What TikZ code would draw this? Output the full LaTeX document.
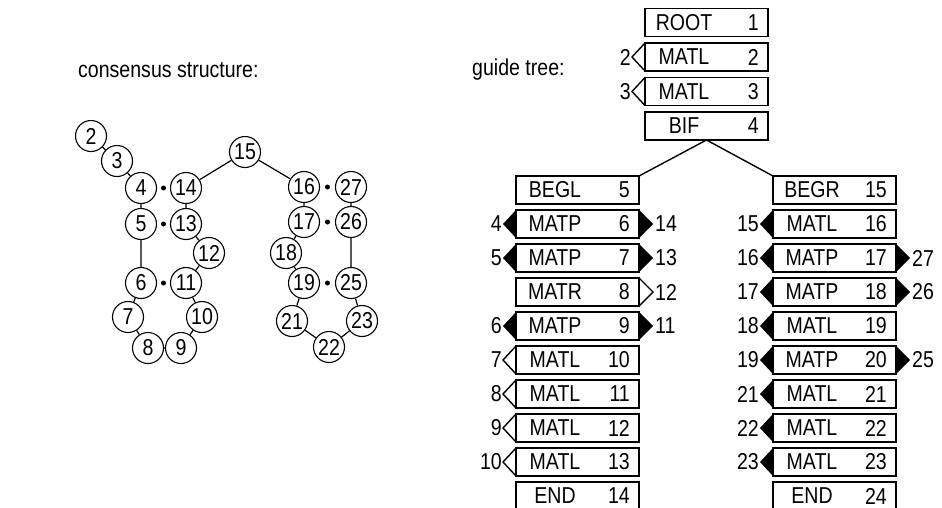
\documentclass[tikz,border=0pt]{standalone}
\usepackage{fontspec}
\setmainfont[FakeStretch=0.85]{Liberation Sans}
\usetikzlibrary{calc}
\tikzset{
  stbox/.style={draw, line width=1.4pt, minimum width=123pt, minimum height=28pt, inner sep=0pt, outer sep=0pt},
  stname/.style={inner sep=0pt, anchor=center},
  stnum/.style={inner sep=0pt, anchor=east},
  sideno/.style={inner sep=0pt},
  res/.style={draw, circle, line width=1.1pt, minimum size=31pt, inner sep=0pt},
  bpdot/.style={circle, fill, inner sep=0pt, minimum size=5pt},
  tri/.style={line width=1.4pt, line join=miter},
  link/.style={line width=1.2pt},
  branch/.style={line width=1.4pt},
}
\newcommand\strow[5]{%
  \node[stbox] (#1) at (#2,#3) {};
  \node[stname] (#1n) at ($(#1.west)+(39,0)$) {#4};
  \node[stnum] (#1k) at ($(#1.east)+(-9,0)$) {#5};
}
\newcommand\TLf[2]{%
  \fill (#1.north west) -- ($(#1.west)+(-13,0)$) -- (#1.south west) -- cycle;
  \node[sideno,anchor=east] (#1a) at ($(#1.west)+(-14,0)$) {#2};
}
\newcommand\TLo[2]{%
  \draw[tri] (#1.north west) -- ($(#1.west)+(-13,0)$) -- (#1.south west);
  \node[sideno,anchor=east] (#1a) at ($(#1.west)+(-14,0)$) {#2};
}
\newcommand\TRf[2]{%
  \fill (#1.north east) -- ($(#1.east)+(14,0)$) -- (#1.south east) -- cycle;
  \node[sideno,anchor=west] (#1b) at ($(#1.east)+(16,0)$) {#2};
}
\newcommand\TRo[2]{%
  \draw[tri] (#1.north east) -- ($(#1.east)+(14,0)$) -- (#1.south east);
  \node[sideno,anchor=west] (#1b) at ($(#1.east)+(16,0)$) {#2};
}
\begin{document}
\begin{tikzpicture}[x=1pt,y=-1pt,font=\fontsize{23}{27}\selectfont]
\useasboundingbox (0,0) rectangle (942,507);

% titles
\node[anchor=west, inner sep=0pt] (t1) at (78,70) {consensus structure:};
\node[anchor=west, inner sep=0pt] (t2) at (472,70) {guide tree:};

% consensus structure residues
\node[res] (c2) at (91,136) {2};
\node[res] (c3) at (117,161) {3};
\node[res] (c4) at (141,188) {4};
\node[res] (c14) at (186,188) {14};
\node[res] (c15) at (245,152) {15};
\node[res] (c16) at (304,187) {16};
\node[res] (c27) at (351,187) {27};
\node[res] (c5) at (141,224) {5};
\node[res] (c13) at (186,224) {13};
\node[res] (c12) at (209,253) {12};
\node[res] (c6) at (141,283) {6};
\node[res] (c11) at (186,283) {11};
\node[res] (c7) at (128,317) {7};
\node[res] (c10) at (202,317) {10};
\node[res] (c8) at (148,348) {8};
\node[res] (c9) at (181,348) {9};
\node[res] (c17) at (304,222) {17};
\node[res] (c26) at (351,222) {26};
\node[res] (c18) at (286,253) {18};
\node[res] (c19) at (304,283) {19};
\node[res] (c25) at (351,283) {25};
\node[res] (c21) at (292,321) {21};
\node[res] (c23) at (362,321) {23};
\node[res] (c22) at (329,347) {22};

\draw[link] (c2) -- (c3) -- (c4) -- (c5) -- (c6) -- (c7) -- (c8) -- (c9) -- (c10) -- (c11) -- (c12) -- (c13) -- (c14) -- (c15) -- (c16) -- (c17) -- (c18) -- (c19) -- (c21) -- (c22) -- (c23) -- (c25) -- (c26) -- (c27);

\node[bpdot] (d4) at ($(c4)!0.5!(c14)$) {};
\node[bpdot] (d5) at ($(c5)!0.5!(c13)$) {};
\node[bpdot] (d6) at ($(c6)!0.5!(c11)$) {};
\node[bpdot] (d16) at ($(c16)!0.5!(c27)$) {};
\node[bpdot] (d17) at ($(c17)!0.5!(c26)$) {};
\node[bpdot] (d19) at ($(c19)!0.5!(c25)$) {};

% guide tree: top column
\strow{r1}{706.5}{22.5}{ROOT}{1}
\strow{r2}{706.5}{57}{MATL}{2}
\strow{r3}{706.5}{91.5}{MATL}{3}
\strow{r4}{706.5}{126}{BIF}{4}
\TLo{r2}{2}
\TLo{r3}{3}

% left branch
\strow{r5}{577.5}{190}{BEGL}{5}
\strow{r6}{577.5}{224}{MATP}{6}
\strow{r7}{577.5}{258}{MATP}{7}
\strow{r8}{577.5}{292}{MATR}{8}
\strow{r9}{577.5}{326}{MATP}{9}
\strow{r10}{577.5}{360}{MATL}{10}
\strow{r11}{577.5}{394}{MATL}{11}
\strow{r12}{577.5}{428}{MATL}{12}
\strow{r13}{577.5}{462}{MATL}{13}
\strow{r14}{577.5}{496}{END}{14}
\TLf{r6}{4}\TRf{r6}{14}
\TLf{r7}{5}\TRf{r7}{13}
\TRo{r8}{12}
\TLf{r9}{6}\TRf{r9}{11}
\TLo{r10}{7}
\TLo{r11}{8}
\TLo{r12}{9}
\TLo{r13}{10}

% right branch
\strow{r15}{834.5}{190}{BEGR}{15}
\strow{r16}{834.5}{224}{MATL}{16}
\strow{r17}{834.5}{258}{MATP}{17}
\strow{r18}{834.5}{292}{MATP}{18}
\strow{r19}{834.5}{326}{MATL}{19}
\strow{r20}{834.5}{360}{MATP}{20}
\strow{r21}{834.5}{394}{MATL}{21}
\strow{r22}{834.5}{428}{MATL}{22}
\strow{r23}{834.5}{462}{MATL}{23}
\strow{r24}{834.5}{496}{END}{24}
\TLf{r16}{15}
\TLf{r17}{16}\TRf{r17}{27}
\TLf{r18}{17}\TRf{r18}{26}
\TLf{r19}{18}
\TLf{r20}{19}\TRf{r20}{25}
\TLf{r21}{21}
\TLf{r22}{22}
\TLf{r23}{23}

% bifurcation
\draw[branch] (r4.south) -- (r5.north east);
\draw[branch] (r4.south) -- (r15.north west);
\end{tikzpicture}
\end{document}
